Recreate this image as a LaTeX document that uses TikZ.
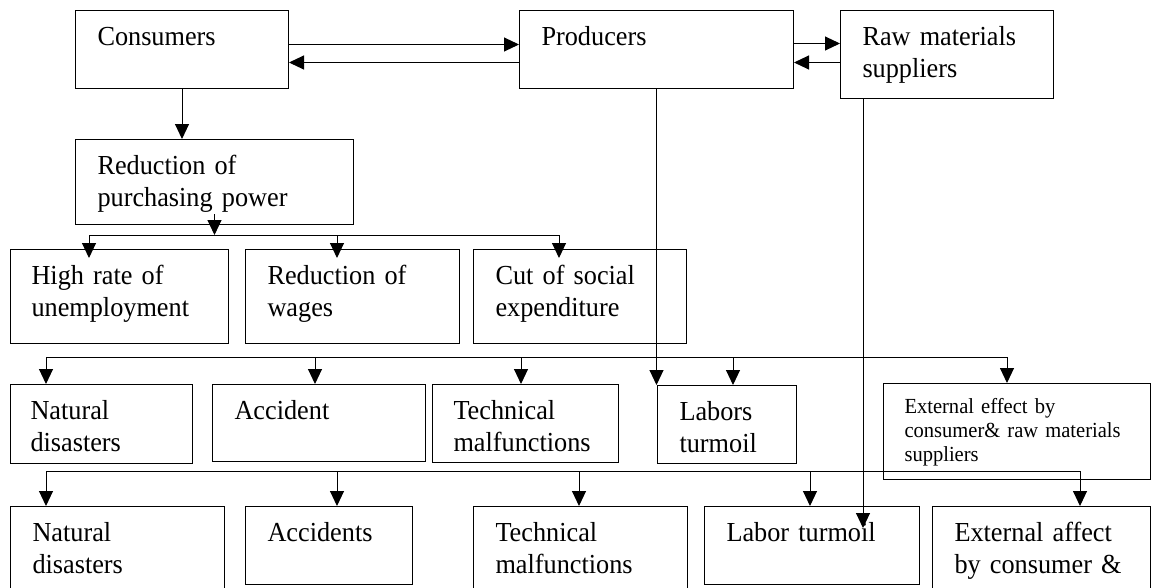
\documentclass[tikz,border=0pt]{standalone}
\usepackage{fontspec}
\setmainfont[FakeStretch=0.955]{Liberation Serif}
\usetikzlibrary{arrows.meta}
\tikzset{
  box/.style={draw, line width=1pt, anchor=north west, inner sep=0pt, align=left,
    text height=35pt, font=\fontsize{27.5}{31.5}\selectfont},
  smallbox/.style={box, text height=30pt, font=\fontsize{21.5}{24}\selectfont},
  arr/.style={line width=1pt, -{Triangle[length=15pt,width=14pt]}},
  bus/.style={line width=1pt}
}
\begin{document}
\begin{tikzpicture}[x=1pt,y=-1pt]
\useasboundingbox (0,0) rectangle (1158,587);
\clip (0,0) rectangle (1158,587);
% top row
\node[box, minimum width=213pt, text width=169pt, text depth=43pt] (cons) at (75,10) {Consumers};
\node[box, minimum width=274pt, text width=230pt, text depth=43pt] (prod) at (519,10) {Producers};
\node[box, minimum width=213pt, text width=169pt, text depth=53pt] (raw) at (840,10) {Raw materials\\suppliers};
\node[box, minimum width=278pt, text width=234pt, text depth=50pt] (red) at (75,139) {Reduction of\\purchasing power};
% second row
\node[box, minimum width=218pt, text width=176pt, text depth=59pt] (hr) at (10,249) {High rate of\\unemployment};
\node[box, minimum width=214pt, text width=170pt, text depth=59pt] (wages) at (245,249) {Reduction of\\wages};
\node[box, minimum width=213pt, text width=169pt, text depth=59pt] (cut) at (473,249) {Cut of social\\expenditure};
% third row
\node[box, minimum width=182pt, text width=142pt, text depth=44pt] (nat1) at (10,384) {Natural\\disasters};
\node[box, minimum width=213pt, text width=169pt, text depth=42pt] (acc1) at (212,384) {Accident};
\node[box, minimum width=186pt, text width=144pt, text depth=43pt] (tech1) at (432,384) {Technical\\malfunctions};
\node[box, minimum width=139pt, text width=95pt, text depth=43pt] (lab1) at (657,385) {Labors\\turmoil};
\node[smallbox, minimum width=267pt, text width=225pt, text depth=66pt] (ext1) at (883,383) {External effect by\\consumer\& raw materials\\suppliers};
% fourth row
\node[box, minimum width=214pt, text width=170pt, text depth=60pt] (nat2) at (10,506) {Natural\\disasters};
\node[box, minimum width=167pt, text width=123pt, text depth=43pt] (acc2) at (245,506) {Accidents};
\node[box, minimum width=214pt, text width=170pt, text depth=60pt] (tech2) at (473,506) {Technical\\malfunctions};
\node[box, minimum width=215pt, text width=171pt, text depth=43pt] (lab2) at (704,506) {Labor turmoil};
\node[box, minimum width=218pt, text width=174pt, text depth=60pt] (ext2) at (932,506) {External affect\\by consumer \&};
% two way links
\coordinate (c1) at ([yshift=5pt]cons.east);
\coordinate (c2) at ([yshift=-13pt]cons.east);
\draw[arr] (c1) -- (c1 -| prod.west);
\draw[arr] (c2 -| prod.west) -- (c2);
\coordinate (p1) at ([yshift=6pt]prod.east);
\coordinate (p2) at ([yshift=-13pt]prod.east);
\draw[arr] (p1) -- (p1 -| raw.west);
\draw[arr] (p2 -| raw.west) -- (p2);
\draw[arr] (cons.south) -- (cons.south |- red.north);
% first branch
\coordinate (b1w) at (89,235);
\coordinate (b1m) at (337,235);
\coordinate (b1e) at (559,235);
\draw[bus] (b1w) -- (b1e);
\draw[arr] ([yshift=11pt]red.south) -- (red.south |- b1w);
\draw[arr, shorten >=-9pt] (b1w) -- (b1w |- hr.north);
\draw[arr, shorten >=-9pt] (b1m) -- (b1m |- wages.north);
\draw[arr, shorten >=-9pt] (b1e) -- (b1e |- cut.north);
% second branch
\coordinate (b2w) at (46,357);
\coordinate (b2a) at (315,357);
\coordinate (b2t) at (521,357);
\coordinate (b2l) at (733,357);
\coordinate (b2e) at (1007,357);
\draw[bus] (b2w) -- (b2e);
\draw[arr] (b2w) -- (b2w |- nat1.north);
\draw[arr] (b2a) -- (b2a |- acc1.north);
\draw[arr] (b2t) -- (b2t |- tech1.north);
\draw[arr] (b2l) -- (b2l |- lab1.north);
\draw[arr] (b2e) -- (b2e |- ext1.north);
\draw[arr] (prod.south) -- (prod.south |- lab1.north);
% third branch
\coordinate (b3w) at (46,471);
\coordinate (b3a) at (337,471);
\coordinate (b3t) at (579,471);
\coordinate (b3l) at (810,471);
\coordinate (b3e) at (1080,471);
\draw[bus] (b3w) -- (b3e);
\draw[arr] (b3w) -- (b3w |- nat2.north);
\draw[arr] (b3a) -- (b3a |- acc2.north);
\draw[arr] (b3t) -- (b3t |- tech2.north);
\draw[arr] (b3l) -- (b3l |- lab2.north);
\draw[arr] (b3e) -- (b3e |- ext2.north);
\coordinate (rw) at ([xshift=-84pt]raw.south);
\draw[arr, shorten >=-22pt] (rw) -- (rw |- lab2.north);
\end{tikzpicture}
\end{document}
